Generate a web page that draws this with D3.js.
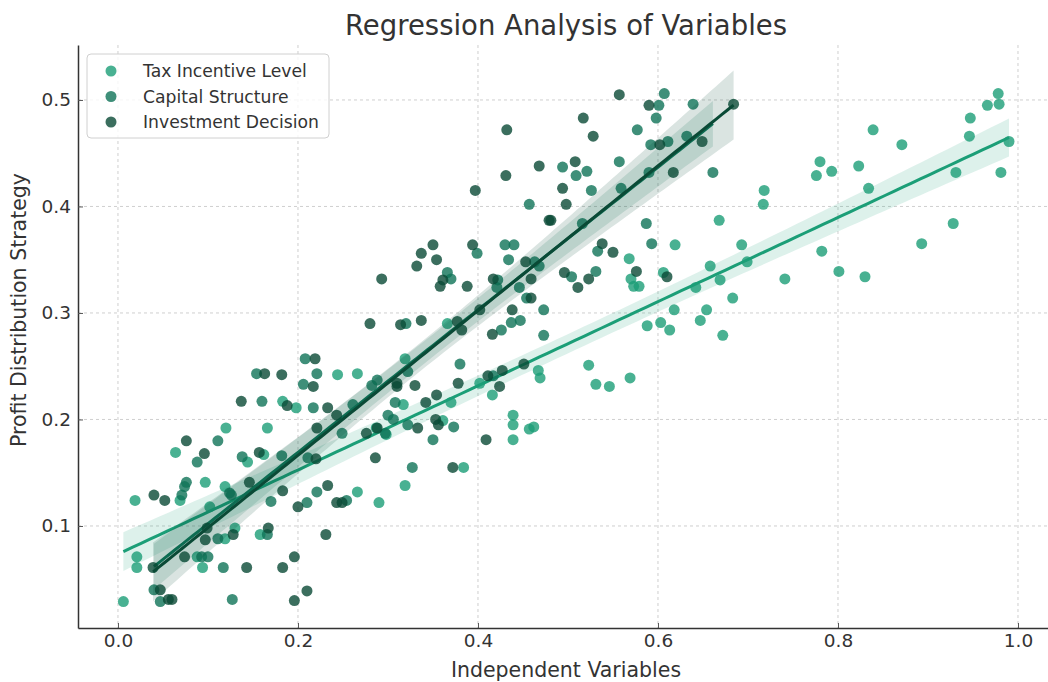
<!DOCTYPE html>
<html>
<head>
<meta charset="utf-8">
<script src="https://d3js.org/d3.v7.min.js"></script>
<style>
  body { margin: 0; background: #fff; }
  text { font-family: "DejaVu Sans", sans-serif; fill: #333; }
</style>
</head>
<body>
<svg></svg>
<script>
var seriesNames = ["Tax Incentive Level", "Capital Structure", "Investment Decision"];
var seriesColors = ["#1b9e77", "#0f7357", "#0a4a36"];
var xTicks = [0.0, 0.2, 0.4, 0.6, 0.8, 1.0];
var yTicks = [0.1, 0.2, 0.3, 0.4, 0.5];

// [independent, profit distribution]
var taxPoints = [
  [0.978,0.506],[0.966,0.495],[0.979,0.496],[0.947,0.483],[0.946,0.466],[0.990,0.461],[0.931,0.432],[0.981,0.432],[0.928,0.384],[0.893,0.365],
  [0.839,0.472],[0.871,0.458],[0.823,0.438],[0.834,0.417],[0.780,0.442],[0.776,0.429],[0.793,0.433],[0.718,0.415],[0.717,0.402],[0.668,0.387],
  [0.693,0.364],[0.699,0.348],[0.658,0.344],[0.669,0.331],[0.642,0.324],[0.683,0.314],[0.619,0.364],[0.618,0.303],[0.654,0.303],[0.647,0.293],
  [0.603,0.291],[0.613,0.284],[0.588,0.288],[0.672,0.279],[0.782,0.358],[0.801,0.339],[0.830,0.334],[0.741,0.332],[0.523,0.251],[0.531,0.233],
  [0.546,0.231],[0.569,0.239],[0.568,0.351],[0.570,0.332],[0.573,0.325],[0.579,0.325],[0.606,0.338],
  [0.366,0.290],[0.319,0.257],[0.467,0.246],[0.469,0.239],[0.402,0.234],[0.416,0.223],[0.317,0.214],[0.370,0.216],[0.298,0.186],
  [0.361,0.199],[0.439,0.204],[0.439,0.195],[0.457,0.191],[0.462,0.193],[0.439,0.181],[0.384,0.155],[0.319,0.138],[0.244,0.242],[0.266,0.243],
  [0.183,0.217],[0.198,0.211],[0.120,0.192],[0.287,0.192],[0.166,0.192],[0.144,0.160],[0.162,0.167],[0.097,0.141],[0.119,0.137],[0.266,0.132],
  [0.290,0.122],[0.102,0.118],[0.064,0.169],[0.019,0.124],[0.069,0.124],[0.119,0.088],[0.130,0.098],[0.158,0.092],[0.021,0.071],[0.021,0.061],
  [0.088,0.071],[0.094,0.061],[0.006,0.029]
];

var capitalPoints = [
  [0.607,0.506],[0.601,0.495],[0.598,0.483],[0.639,0.496],[0.577,0.472],[0.592,0.458],[0.611,0.461],[0.632,0.466],[0.557,0.442],[0.494,0.437],
  [0.521,0.433],[0.509,0.429],[0.526,0.415],[0.559,0.417],[0.590,0.432],[0.661,0.432],[0.516,0.384],[0.457,0.402],[0.587,0.384],[0.593,0.365],
  [0.533,0.358],[0.531,0.339],[0.504,0.334],[0.399,0.356],[0.430,0.364],[0.440,0.364],[0.434,0.350],[0.463,0.348],[0.468,0.344],[0.366,0.338],
  [0.370,0.332],[0.422,0.331],[0.421,0.324],[0.446,0.324],[0.454,0.314],[0.473,0.303],[0.473,0.279],[0.320,0.290],[0.426,0.284],[0.437,0.291],
  [0.447,0.293],[0.380,0.252],[0.417,0.241],[0.322,0.245],[0.288,0.237],[0.308,0.216],[0.300,0.204],[0.306,0.200],[0.322,0.195],[0.373,0.193],
  [0.350,0.181],[0.327,0.155],[0.208,0.257],[0.154,0.243],[0.221,0.243],[0.206,0.233],[0.160,0.217],[0.217,0.211],[0.261,0.214],[0.282,0.232],
  [0.111,0.180],[0.249,0.187],[0.297,0.187],[0.088,0.160],[0.138,0.165],[0.182,0.166],[0.211,0.164],[0.124,0.131],[0.221,0.132],[0.170,0.123],
  [0.210,0.122],[0.254,0.124],[0.071,0.129],[0.074,0.137],[0.076,0.141],[0.126,0.129],[0.111,0.088],[0.166,0.092],[0.093,0.071],[0.100,0.071],
  [0.117,0.061],[0.040,0.040],[0.047,0.029],[0.127,0.031]
];

var investmentPoints = [
  [0.557,0.505],[0.590,0.495],[0.517,0.483],[0.528,0.466],[0.602,0.458],[0.649,0.461],[0.684,0.496],[0.508,0.442],[0.494,0.417],[0.617,0.432],
  [0.498,0.402],[0.432,0.472],[0.431,0.429],[0.397,0.415],[0.468,0.438],[0.479,0.387],[0.481,0.387],[0.538,0.365],[0.550,0.357],[0.523,0.332],
  [0.511,0.324],[0.496,0.338],[0.576,0.339],[0.610,0.334],[0.350,0.364],[0.337,0.356],[0.332,0.344],[0.354,0.350],[0.394,0.364],[0.453,0.348],
  [0.361,0.331],[0.358,0.325],[0.388,0.325],[0.417,0.332],[0.459,0.332],[0.459,0.314],[0.293,0.332],[0.314,0.289],[0.337,0.293],[0.280,0.290],
  [0.377,0.292],[0.382,0.284],[0.402,0.303],[0.416,0.280],[0.438,0.303],[0.451,0.252],[0.427,0.246],[0.411,0.241],[0.310,0.234],[0.310,0.231],
  [0.330,0.232],[0.378,0.234],[0.424,0.231],[0.342,0.216],[0.354,0.223],[0.288,0.192],[0.333,0.192],[0.353,0.200],[0.356,0.195],[0.409,0.181],
  [0.286,0.164],[0.372,0.155],[0.219,0.257],[0.163,0.243],[0.182,0.242],[0.217,0.231],[0.137,0.217],[0.188,0.213],[0.233,0.211],[0.243,0.204],
  [0.076,0.180],[0.221,0.192],[0.276,0.187],[0.096,0.168],[0.157,0.169],[0.220,0.163],[0.146,0.141],[0.183,0.133],[0.233,0.138],[0.200,0.118],
  [0.243,0.122],[0.249,0.122],[0.040,0.129],[0.052,0.124],[0.099,0.098],[0.128,0.092],[0.167,0.098],[0.097,0.087],[0.074,0.071],[0.039,0.061],
  [0.143,0.061],[0.047,0.040],[0.056,0.031],[0.060,0.031],[0.231,0.092],[0.196,0.071],[0.183,0.061],[0.210,0.039],[0.196,0.030]
];

var allSeries = [taxPoints, capitalPoints, investmentPoints];

// least squares fit + 95% band, evaluated over the data's x range
function fitLine(pts) {
  var n = pts.length;
  var mx = d3.mean(pts, function(d) { return d[0]; });
  var my = d3.mean(pts, function(d) { return d[1]; });
  var sxx = d3.sum(pts, function(d) { return (d[0] - mx) * (d[0] - mx); });
  var sxy = d3.sum(pts, function(d) { return (d[0] - mx) * (d[1] - my); });
  var b = sxy / sxx;
  var a = my - b * mx;
  var sse = d3.sum(pts, function(d) { var r = d[1] - (a + b * d[0]); return r * r; });
  var s = Math.sqrt(sse / (n - 2));
  var ext = d3.extent(pts, function(d) { return d[0]; });
  return d3.range(0, 101).map(function(i) {
    var x = ext[0] + (ext[1] - ext[0]) * i / 100;
    var yhat = a + b * x;
    var se = s * Math.sqrt(1 / n + (x - mx) * (x - mx) / sxx);
    return { x: x, y: yhat, lo: yhat - 1.98 * se, hi: yhat + 1.98 * se };
  });
}

function drawGraph() {
  var svg_width = 1048;
  var svg_height = 682;
  var margin = { top: 45, right: -6, bottom: 54, left: 78 };
  var width = svg_width - margin.left - margin.right;
  var height = svg_height - margin.top - margin.bottom;

  var svg = d3.select("svg")
    .attr("width", svg_width)
    .attr("height", svg_height);

  var group = svg.append("g")
    .attr("transform", "translate(" + margin.left + "," + margin.top + ")");

  var x = d3.scaleLinear().domain([-0.0444, 1.04]).range([0, width]);
  var y = d3.scaleLinear().domain([0.0042, 0.5516]).range([height, 0]);

  // grid
  group.append("g").selectAll("line").data(xTicks).enter().append("line")
    .attr("x1", function(d) { return x(d); }).attr("x2", function(d) { return x(d); })
    .attr("y1", 0).attr("y2", height)
    .attr("stroke", "#cfcfcf").attr("stroke-width", 1).attr("stroke-dasharray", "3,3");
  group.append("g").selectAll("line").data(yTicks).enter().append("line")
    .attr("y1", function(d) { return y(d); }).attr("y2", function(d) { return y(d); })
    .attr("x1", 0).attr("x2", width)
    .attr("stroke", "#cfcfcf").attr("stroke-width", 1).attr("stroke-dasharray", "3,3");

  var line = d3.line()
    .x(function(d) { return x(d.x); })
    .y(function(d) { return y(d.y); });
  var band = d3.area()
    .x(function(d) { return x(d.x); })
    .y0(function(d) { return y(d.lo); })
    .y1(function(d) { return y(d.hi); });

  allSeries.forEach(function(pts, i) {
    group.append("g").selectAll("circle").data(pts).enter().append("circle")
      .attr("cx", function(d) { return x(d[0]); })
      .attr("cy", function(d) { return y(d[1]); })
      .attr("r", 5.5)
      .attr("fill", seriesColors[i])
      .attr("fill-opacity", 0.8);

    var fit = fitLine(pts);
    group.append("path").datum(fit)
      .attr("d", band)
      .attr("fill", seriesColors[i])
      .attr("fill-opacity", 0.15);
    group.append("path").datum(fit)
      .attr("d", line)
      .attr("fill", "none")
      .attr("stroke", seriesColors[i])
      .attr("stroke-width", 3);
  });

  // axes
  var xAxis = group.append("g")
    .attr("transform", "translate(0," + height + ")")
    .call(d3.axisBottom(x).tickValues(xTicks).tickFormat(d3.format(".1f"))
      .tickSizeInner(-5).tickSizeOuter(0).tickPadding(6));
  var yAxis = group.append("g")
    .call(d3.axisLeft(y).tickValues(yTicks).tickFormat(d3.format(".1f"))
      .tickSizeInner(-5).tickSizeOuter(0).tickPadding(7));
  [xAxis, yAxis].forEach(function(ax) {
    ax.select(".domain").attr("stroke", "#333").attr("stroke-width", 1.5);
    ax.selectAll(".tick line").attr("stroke", "#555");
    ax.selectAll(".tick text").attr("font-size", 18.5).attr("fill", "#333")
      .attr("font-family", "DejaVu Sans, sans-serif");
  });

  // titles
  svg.append("text")
    .attr("x", 566).attr("y", 35)
    .attr("text-anchor", "middle")
    .attr("font-size", 27.5)
    .text("Regression Analysis of Variables");
  svg.append("text")
    .attr("x", 566).attr("y", 677)
    .attr("text-anchor", "middle")
    .attr("font-size", 20.5)
    .text("Independent Variables");
  svg.append("text")
    .attr("transform", "translate(26,310) rotate(-90)")
    .attr("text-anchor", "middle")
    .attr("font-size", 20.5)
    .text("Profit Distribution Strategy");

  // legend
  var legend = svg.append("g").attr("transform", "translate(87,54)");
  legend.append("rect")
    .attr("width", 242).attr("height", 84).attr("rx", 4)
    .attr("fill", "#fff").attr("fill-opacity", 0.8)
    .attr("stroke", "#d0d0d0");
  seriesNames.forEach(function(name, i) {
    var row = legend.append("g").attr("transform", "translate(0," + (17 + i * 25.5) + ")");
    row.append("circle").attr("cx", 24).attr("cy", 0).attr("r", 5.5)
      .attr("fill", seriesColors[i]).attr("fill-opacity", 0.8);
    row.append("text").attr("x", 56).attr("y", 0).attr("dy", "0.35em")
      .attr("font-size", 17.2)
      .text(name);
  });
}

drawGraph();
</script>
</body>
</html>
